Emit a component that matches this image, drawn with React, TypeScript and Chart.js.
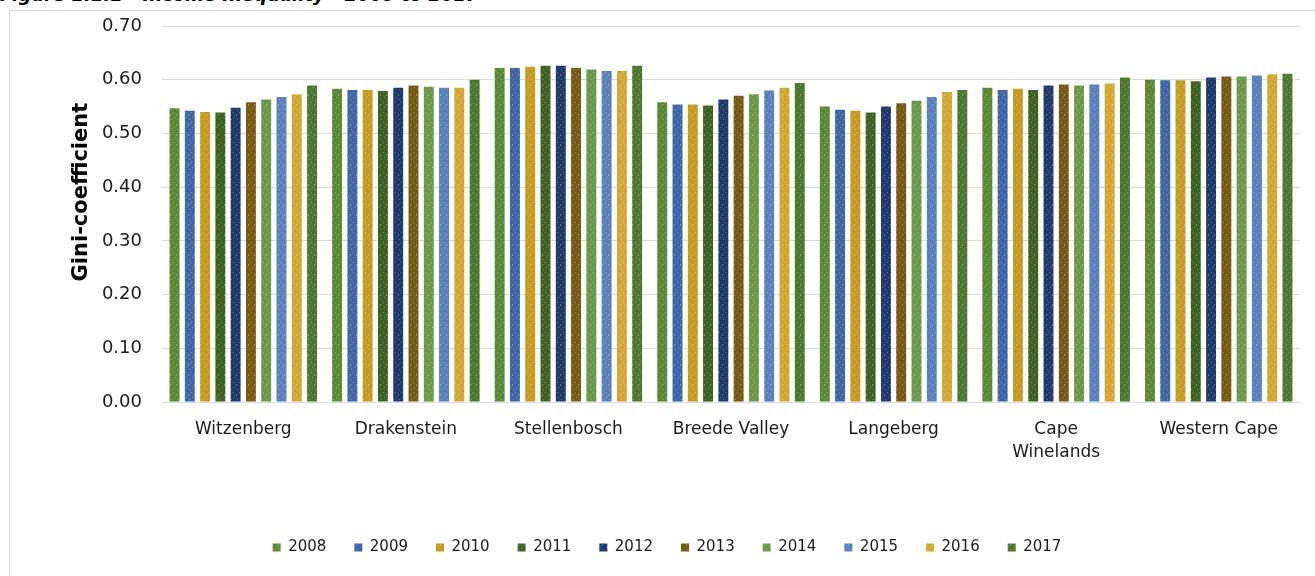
import React, { useEffect, useRef } from "react";
import { Chart, registerables } from "chart.js";

Chart.register(...registerables);

const titleText = "Figure 1.1.1 - Income Inequality - 2008 to 2017";
const axisTitle = "\u00a0\u00a0\u00a0\u00a0\u00a0\u00a0Gini-coefficient";
const categories: (string | string[])[] = [
  "Witzenberg",
  "Drakenstein",
  "Stellenbosch",
  "Breede Valley",
  "Langeberg",
  ["Cape", "Winelands"],
  "Western Cape",
];
const years = ["2008", "2009", "2010", "2011", "2012", "2013", "2014", "2015", "2016", "2017"];
const yearColors = [
  "#5a8a34",
  "#3f66a8",
  "#c89b1e",
  "#3b6420",
  "#1e3a6e",
  "#7a5a12",
  "#6a9a48",
  "#5a80c0",
  "#d4a830",
  "#4a7a30",
];

const v2008 = [0.547, 0.583, 0.622, 0.558, 0.55, 0.585, 0.6];
const v2009 = [0.542, 0.581, 0.622, 0.554, 0.544, 0.581, 0.599];
const v2010 = [0.54, 0.581, 0.624, 0.554, 0.542, 0.583, 0.599];
const v2011 = [0.539, 0.579, 0.626, 0.552, 0.539, 0.581, 0.597];
const v2012 = [0.548, 0.585, 0.626, 0.563, 0.55, 0.589, 0.604];
const v2013 = [0.558, 0.589, 0.622, 0.57, 0.556, 0.591, 0.606];
const v2014 = [0.563, 0.587, 0.619, 0.573, 0.561, 0.589, 0.606];
const v2015 = [0.568, 0.585, 0.616, 0.58, 0.568, 0.591, 0.608];
const v2016 = [0.573, 0.585, 0.616, 0.585, 0.577, 0.593, 0.61];
const v2017 = [0.589, 0.6, 0.626, 0.594, 0.581, 0.604, 0.611];
const seriesValues = [v2008, v2009, v2010, v2011, v2012, v2013, v2014, v2015, v2016, v2017];

const yMin = 0;
const yMax = 0.7;
const yStep = 0.1;

const FONT = "'DejaVu Sans', sans-serif";

function makePattern(color: string): CanvasPattern | string {
  const c = document.createElement("canvas");
  c.width = 6;
  c.height = 10;
  const g = c.getContext("2d");
  if (!g) return color;
  g.fillStyle = color;
  g.fillRect(0, 0, 6, 10);
  g.fillStyle = "rgba(255,255,255,0.28)";
  g.fillRect(1, 1, 1, 1);
  g.fillRect(4, 3, 1, 2);
  g.fillRect(2, 6, 1, 1);
  g.fillRect(5, 8, 1, 1);
  g.fillStyle = "rgba(0,0,0,0.12)";
  g.fillRect(3, 0, 1, 1);
  g.fillRect(0, 5, 1, 1);
  const p = g.createPattern(c, "repeat");
  return p || color;
}

export default function App() {
  const canvasRef = useRef<HTMLCanvasElement | null>(null);

  useEffect(() => {
    if (!canvasRef.current) return;
    const datasets = years.map((y, i) => ({
      label: y,
      data: seriesValues[i],
      backgroundColor: makePattern(yearColors[i]),
      borderWidth: 0,
      categoryPercentage: 0.94,
      barPercentage: 0.65,
    }));
    const chart = new Chart(canvasRef.current, {
      type: "bar",
      data: { labels: categories as any, datasets },
      options: {
        animation: false,
        responsive: false,
        maintainAspectRatio: false,
        layout: { padding: { left: 24, right: 15, top: 0, bottom: 11 } },
        plugins: {
          tooltip: { enabled: false },
          legend: {
            position: "bottom",
            labels: {
              font: { family: FONT, size: 15 },
              color: "#1a1a1a",
              boxWidth: 8,
              boxHeight: 8,
              padding: 28,
            },
          },
        },
        scales: {
          x: {
            grid: { display: false, drawTicks: false },
            border: { display: true, color: "#d9dde3", width: 1 },
            ticks: {
              font: { family: FONT, size: 17, lineHeight: 1.35 },
              color: "#1a1a1a",
              padding: 16,
              maxRotation: 0,
              autoSkip: false,
            },
            afterFit: (s: any) => {
              s.height = 110;
            },
          },
          y: {
            min: yMin,
            max: yMax,
            border: { display: false },
            grid: { color: "#d9dde3", lineWidth: 1, drawTicks: false },
            ticks: {
              stepSize: yStep,
              font: { family: FONT, size: 18 },
              color: "#1a1a1a",
              padding: 20,
              callback: (v: any) => Number(v).toFixed(2),
            },
            title: {
              display: true,
              text: axisTitle,
              font: { family: FONT, size: 21, weight: "bold" },
              color: "#000",
              padding: { top: 35, bottom: 4 },
            },
            afterFit: (s: any) => {
              s.width = 128;
              s.paddingTop = 15;
              s.paddingBottom = 10;
            },
          },
        },
      },
    });
    return () => chart.destroy();
  }, []);

  return (
    <div
      style={{
        position: "fixed",
        left: 0,
        top: 0,
        width: 1315,
        height: 576,
        overflow: "hidden",
        background: "#fff",
      }}
    >
      <div
        style={{
          position: "absolute",
          left: 0,
          top: -14,
          fontFamily: FONT,
          fontWeight: "bold",
          fontStyle: "italic",
          fontSize: 18,
          lineHeight: "18px",
          whiteSpace: "nowrap",
          color: "#000",
        }}
      >
        {titleText}
      </div>
      <div
        style={{
          position: "absolute",
          left: 9,
          top: 10,
          width: 1320,
          height: 580,
          border: "1px solid #d9d9d9",
          boxSizing: "border-box",
        }}
      />
      <div style={{ position: "absolute", left: 10, top: 11, width: 1305, height: 565 }}>
        <canvas ref={canvasRef} width={1305} height={565} style={{ width: 1305, height: 565 }} />
      </div>
    </div>
  );
}
